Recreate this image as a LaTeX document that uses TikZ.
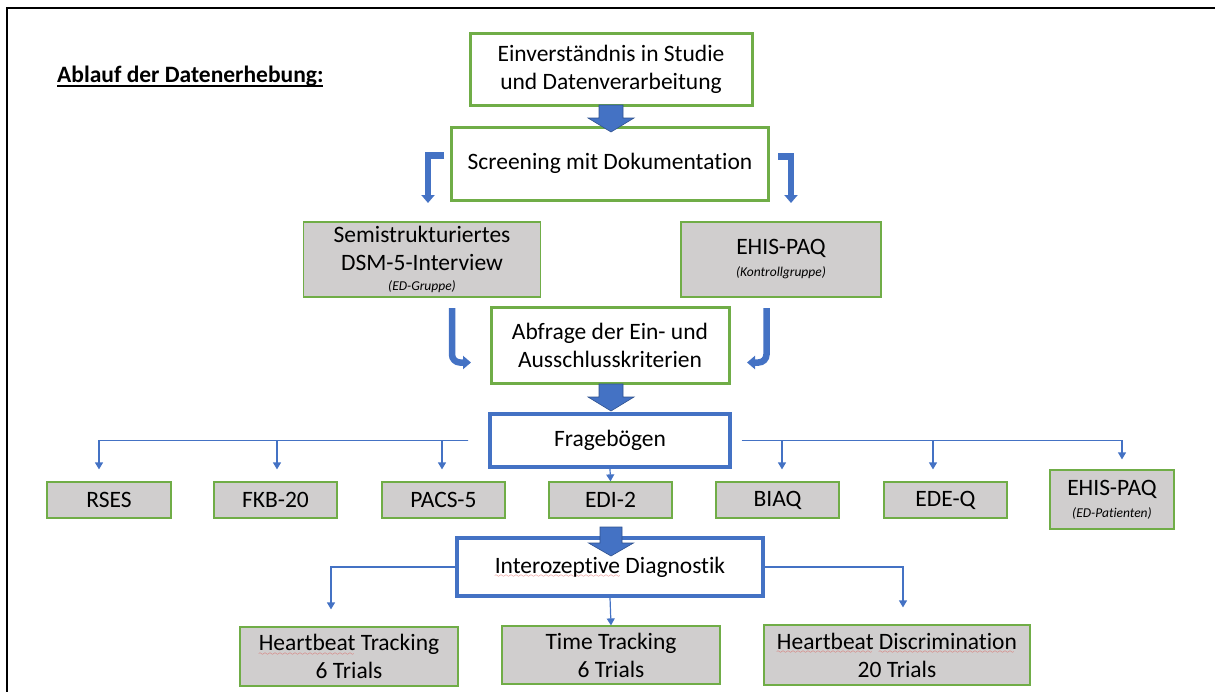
\documentclass[tikz,border=0pt]{standalone}
\usepackage{fontspec}
\setmainfont{Carlito}[Ligatures=NoCommon]
\usetikzlibrary{arrows.meta,calc}

\definecolor{boxgreen}{HTML}{70AD47}
\definecolor{flowblue}{HTML}{4472C4}
\definecolor{flowblueedge}{HTML}{2F528F}
\definecolor{boxgray}{HTML}{D0CECE}
\definecolor{spellred}{HTML}{E0403A}

\newcommand\mainsize{\fontsize{23.5}{28}\selectfont}
\newcommand\notesize{\fontsize{13.5}{16}\selectfont\itshape}
\font\wavefont=lasy6\relax
\newsavebox\spellbox
% red wavy underline of a flagged word
\newcommand\spellmark[1]{\sbox\spellbox{#1}%
  \rlap{\raisebox{-4.5pt}[0pt][0pt]{\color{spellred}\hbox to \wd\spellbox{\leaders\hbox{\wavefont\char58}\hfil}}}%
  \usebox\spellbox}
% heading with a solid underline
\newcommand\headline[1]{\sbox\spellbox{#1}%
  \rlap{\rule[-5pt]{\wd\spellbox}{2pt}}\usebox\spellbox}

% thick block arrow pointing down: centre x, top, head base, tip, shaft half width, head half width
\newcommand\fatdown[6]{%
  \filldraw[fatarrow] (#1-#5,#2) -- (#1+#5,#2) -- (#1+#5,#3) -- (#1+#6,#3)
    -- (#1,#4) -- (#1-#6,#3) -- (#1-#5,#3) -- cycle;}

\begin{document}
\begin{tikzpicture}[x=1pt,y=-1pt,line join=miter,
  greenbox/.style={draw=boxgreen,line width=3,fill=white,align=center,font=\mainsize,inner sep=0pt},
  graybox/.style={draw=boxgreen,line width=1.2,fill=boxgray,align=center,font=\mainsize,inner sep=0pt},
  bluebox/.style={draw=flowblue,line width=3.5,fill=white,align=center,font=\mainsize,inner sep=0pt},
  feed/.style={draw=flowblue,line width=1.2,-{Triangle[width=8pt,length=7pt]}},
  bentarrow/.style={draw=flowblue,line width=6.5,-{Triangle[width=13pt,length=8pt]}},
  fatarrow/.style={fill=flowblue,draw=flowblueedge,line width=0.6}]

\useasboundingbox (0,0) rectangle (1215,691);

% page frame
\draw[line width=2.5] (7,693) -- (7,8) -- (1217,8);

% heading
\node[anchor=base west,font=\fontsize{23.5}{28}\selectfont\bfseries,inner sep=0pt] (title) at (57,82)
  {\headline{Ablauf der Datenerhebung:}};

% main flow
\node[greenbox,minimum width=282,minimum height=72] (consent) at (611,69)
  {Einverständnis in Studie\\und Datenverarbeitung};
\node[greenbox,minimum width=317,minimum height=73] (screen) at (610,163.5)
  {Screening mit Dokumentation};
\node[graybox,minimum width=237,minimum height=75] (dsm) at (422,259.5)
  {Semistrukturiertes\\DSM-5-Interview\\[-8pt]{\notesize (ED-Gruppe)}};
\node[graybox,minimum width=200,minimum height=75] (ctrl) at (781,259.5)
  {EHIS-PAQ\\[-6pt]{\notesize (Kontrollgruppe)}};
\node[greenbox,minimum width=238,minimum height=76] (crit) at (610,345)
  {Abfrage der Ein- und\\Ausschlusskriterien};
\node[bluebox,minimum width=240,minimum height=53] (quest) at (610,440.5)
  {Fragebögen};

% questionnaires
\node[graybox,minimum width=124,minimum height=36] (rses) at (109,500) {RSES};
\node[graybox,minimum width=123,minimum height=36] (fkb)  at (275.5,500) {FKB-20};
\node[graybox,minimum width=123,minimum height=36] (pacs) at (443.5,500) {PACS-5};
\node[graybox,minimum width=123,minimum height=36] (edi)  at (610.5,500) {EDI-2};
\node[graybox,minimum width=123,minimum height=36] (biaq) at (777.5,500) {BIAQ};
\node[graybox,minimum width=123,minimum height=36] (edeq) at (945.5,500) {EDE-Q};
\node[graybox,minimum width=124,minimum height=59] (ehis) at (1112,499.5)
  {EHIS-PAQ\\[-6pt]{\notesize (ED-Patienten)}};

% interoception tasks
\node[bluebox,minimum width=306,minimum height=58] (intero) at (610,567)
  {\spellmark{Interozeptive} Diagnostik};
\node[graybox,minimum width=218,minimum height=59] (hbt) at (349,656.5)
  {\spellmark{Heartbeat} Tracking\\6 Trials};
\node[graybox,minimum width=218,minimum height=58] (tt) at (611,655)
  {Time Tracking\\6 Trials};
\node[graybox,minimum width=266,minimum height=60] (hbd) at (897,655)
  {\spellmark{Heartbeat} \spellmark{Discrimination}\\20 Trials};

% block arrows along the main axis
\fatdown{611}{105}{118}{132}{12}{23}
\fatdown{611}{384}{397}{411}{12}{23}
\fatdown{611}{527}{543}{556}{11}{22.5}

% bent arrows to and from the two interview branches
\coordinate (sL) at (444,155.5);
\coordinate (sR) at (778,156.5);
\draw[bentarrow] (sL) -- (428,155.5) -- (428,203);
\draw[bentarrow] (sR) -- (791,156.5) -- (791,203);
\draw[bentarrow,rounded corners=8] (452,308) -- (452,362.5) -- (471,362.5);
\draw[bentarrow,rounded corners=8] (766.5,308) -- (766.5,362.5) -- (747,362.5);

% questionnaire distribution lines
\coordinate (qL) at ([xshift=-20pt]quest.west);
\coordinate (qR) at ([xshift=10pt]quest.east);
\draw[feed] (qL) -| ([xshift=-10pt,yshift=12pt]rses.north);
\draw[feed] (qL) -| ([xshift=1.5pt,yshift=12pt]fkb.north);
\draw[feed] (qL) -| ([xshift=-1.5pt,yshift=12pt]pacs.north);
\draw[feed] (quest.south) -- (edi.north);
\draw[feed] (qR) -| ([xshift=4.5pt,yshift=12pt]biaq.north);
\draw[feed] (qR) -| ([xshift=-12.5pt,yshift=12pt]edeq.north);
\draw[feed] (qR) -| ([xshift=10pt,yshift=10pt]ehis.north);

% interoception task lines
\draw[feed] (intero.west) -| ([xshift=-18pt,yshift=17pt]hbt.north);
\draw[feed] (intero.south) -- (tt.north);
\draw[feed] (intero.east) -| ([xshift=6pt,yshift=17pt]hbd.north);

\end{tikzpicture}
\end{document}
